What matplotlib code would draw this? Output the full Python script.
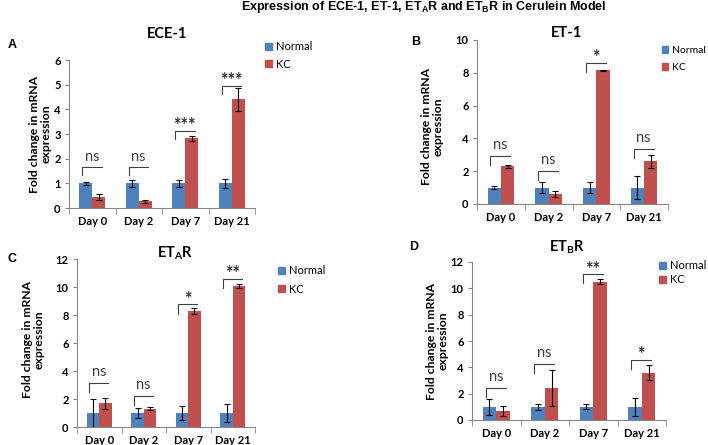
import numpy as np
import matplotlib
matplotlib.use("Agg")
import matplotlib.pyplot as plt
from matplotlib.patches import Patch

plt.rcParams['font.family'] = ['Lato', 'DejaVu Sans']
plt.rcParams['mathtext.default'] = 'regular'

# Daten
days = ['Day 0', 'Day 2', 'Day 7', 'Day 21']

ece1_normal = [1.0, 1.0, 1.0, 1.0]
ece1_normal_err = [0.07, 0.15, 0.15, 0.18]
ece1_kc = [0.45, 0.27, 2.82, 4.4]
ece1_kc_err = [0.13, 0.07, 0.1, 0.45]
ece1_sig = ['ns', 'ns', '***', '***']
ece1_bracket = [1.65, 1.65, 3.13, 4.95]

et1_normal = [1.0, 1.0, 1.0, 1.0]
et1_normal_err = [0.1, 0.35, 0.35, 0.7]
et1_kc = [2.3, 0.6, 8.15, 2.6]
et1_kc_err = [0.1, 0.2, 0.05, 0.4]
et1_sig = ['ns', 'ns', '*', 'ns']
et1_bracket = [2.95, 2.03, 8.6, 3.35]

etar_normal = [1.0, 1.0, 1.0, 1.0]
etar_normal_err = [1.0, 0.35, 0.5, 0.65]
etar_kc = [1.7, 1.3, 8.3, 10.05]
etar_kc_err = [0.4, 0.12, 0.2, 0.15]
etar_sig = ['ns', 'ns', '*', '**']
etar_bracket = [3.16, 2.2, 8.76, 10.6]

etbr_normal = [1.0, 1.0, 1.0, 1.0]
etbr_normal_err = [0.6, 0.25, 0.2, 0.7]
etbr_kc = [0.7, 2.45, 10.5, 3.6]
etbr_kc_err = [0.4, 1.35, 0.2, 0.55]
etbr_sig = ['ns', 'ns', '**', '*']
etbr_bracket = [2.4, 4.25, 11.06, 4.55]

BLUE = '#4F81BD'
RED = '#C0504D'
GRAY = '#868686'

W, H = 708, 445
fig = plt.figure(figsize=(W / 100, H / 100), dpi=100)


def px(x, y):
    return x / W, 1 - y / H


def make_axes(left, right, bottom, top):
    return fig.add_axes([left / W, 1 - bottom / H, (right - left) / W, (bottom - top) / H])


def draw_panel(ax, normal, nerr, kc, kerr, sig, brackets, ymax, ystep, label_x, label_y):
    x = np.arange(len(days))
    w = 0.28
    ax.bar(x - w / 2, normal, w, color=BLUE, yerr=nerr, capsize=2,
           error_kw=dict(elinewidth=0.8, capthick=0.8, ecolor='black'))
    ax.bar(x + w / 2, kc, w, color=RED, yerr=kerr, capsize=2,
           error_kw=dict(elinewidth=0.8, capthick=0.8, ecolor='black'))
    tick = 0.055 * ymax
    for i, (s, y) in enumerate(zip(sig, brackets)):
        ax.plot([i - 0.22, i - 0.22, i + 0.2], [y - tick, y, y], color='#404040', lw=0.8)
        if s == 'ns':
            ax.text(i - 0.01, y + 0.025 * ymax, s, ha='center', va='bottom', fontsize=10.5,
                    color='#404040')
        else:
            ax.text(i - 0.01, y - 0.02 * ymax, s, ha='center', va='bottom', fontsize=13,
                    color='#303030', fontweight='bold')
    ax.set_xlim(-0.5, len(days) - 0.5)
    ax.set_ylim(0, ymax)
    ax.set_yticks(np.arange(0, ymax + 0.1, ystep))
    ax.set_xticks(x)
    ax.set_xticklabels(days)
    ax.set_xticks(np.arange(-0.5, len(days)), minor=True)
    ax.tick_params(axis='x', which='major', length=0, pad=6, labelsize=8)
    ax.tick_params(axis='x', which='minor', length=4, color=GRAY, direction='out')
    ax.tick_params(axis='y', length=3, color=GRAY, direction='out', labelsize=8, pad=3)
    for lab in ax.get_xticklabels() + ax.get_yticklabels():
        lab.set_fontweight('bold')
    for sp in ['top', 'right']:
        ax.spines[sp].set_visible(False)
    for sp in ['left', 'bottom']:
        ax.spines[sp].set_color(GRAY)
        ax.spines[sp].set_linewidth(0.8)
    ax.set_ylabel('Fold change in mRNA\nexpression', fontsize=8.7, fontweight='bold',
                  va='center', linespacing=1.05)
    ax.yaxis.set_label_coords(label_x, label_y)


def add_legend(ax, x, y, spacing, size=8):
    handles = [Patch(color=BLUE), Patch(color=RED)]
    ax.legend(handles, ['Normal', 'KC'], loc='upper left', bbox_to_anchor=px(x, y),
              bbox_transform=fig.transFigure, frameon=False, borderpad=0, borderaxespad=0,
              handlelength=0.6, handleheight=0.6, handletextpad=0.35,
              labelspacing=spacing, fontsize=size)


axA = make_axes(69, 255, 208, 60)
draw_panel(axA, ece1_normal, ece1_normal_err, ece1_kc, ece1_kc_err, ece1_sig, ece1_bracket,
           6, 1, -0.156, 0.5)
add_legend(axA, 265, 41, 0.6)

axB = make_axes(477, 668, 204, 40)
draw_panel(axB, et1_normal, et1_normal_err, et1_kc, et1_kc_err, et1_sig, et1_bracket,
           10, 2, -0.236, 0.47)
add_legend(axB, 662, 46, 0.8, size=7.5)

axC = make_axes(77, 255, 427, 259)
draw_panel(axC, etar_normal, etar_normal_err, etar_kc, etar_kc_err, etar_sig, etar_bracket,
           12, 2, -0.247, 0.52)
add_legend(axC, 278, 265, 0.7)

axD = make_axes(472, 666, 420, 262)
draw_panel(axD, etbr_normal, etbr_normal_err, etbr_kc, etbr_kc_err, etbr_sig, etbr_bracket,
           12, 2, -0.18, 0.5)
add_legend(axD, 659, 260, 0.3)

# Titel
fig.text(*px(167, 34), 'ECE-1', ha='center', va='center', fontsize=10.5, fontweight='bold')
fig.text(*px(567, 33), 'ET-1', ha='center', va='center', fontsize=10.5, fontweight='bold')
fig.text(*px(175, 253), r'ET$_A$R', ha='center', va='center', fontsize=10.5, fontweight='bold')
fig.text(*px(567, 247), r'ET$_B$R', ha='center', va='center', fontsize=10.5, fontweight='bold')

for letter, (lx, ly) in zip('ABCD', [(12, 45), (416, 42), (12, 259), (414, 247)]):
    fig.text(*px(lx, ly), letter, ha='center', va='center', fontsize=9, fontweight='bold',
             family='Liberation Sans')

fig.text(*px(424, 7), r'Expression of ECE-1, ET-1, ET$_A$R and ET$_B$R in Cerulein Model',
         ha='center', va='center', fontsize=9, fontweight='bold', family='Liberation Sans')

fig.savefig('out.png', dpi=100)
